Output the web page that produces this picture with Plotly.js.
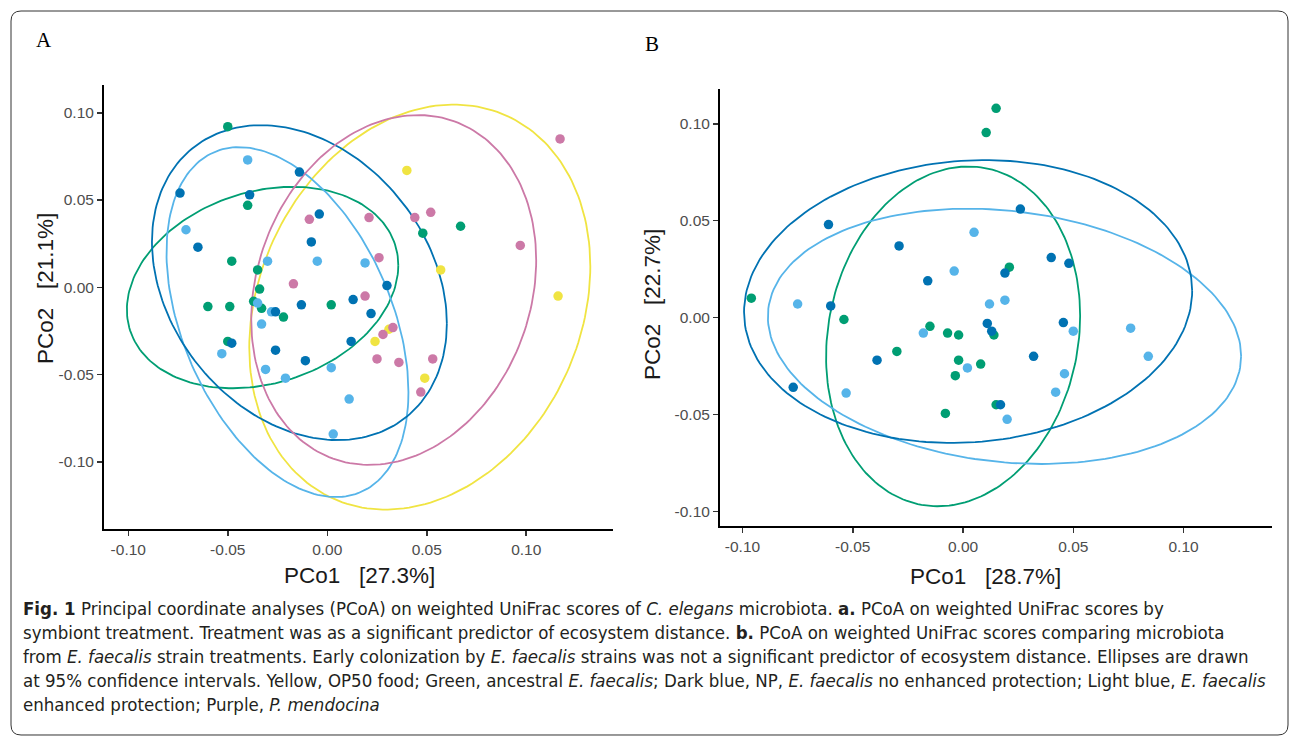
<!DOCTYPE html>
<html>
<head>
<meta charset="utf-8">
<script src="https://cdn.plot.ly/plotly-3.0.1.min.js"></script>
<style>
  html, body { margin: 0; padding: 0; background: #ffffff; }
  #chart { width: 1290px; height: 738px; }
</style>
</head>
<body>
<div id="chart"></div>
<script>
// ---------------- Panel A data (PCoA, symbiont treatment) ----------------
const aYellowX = [0.040, 0.057, 0.116, 0.031, 0.024, 0.049];
const aYellowY = [0.067, 0.010, -0.005, -0.024, -0.031, -0.052];
const aGreenX = [-0.050, -0.040, -0.048, -0.035, -0.034, 0.048, 0.067, 0.002, -0.060, -0.049, -0.037, -0.033, -0.022, -0.050];
const aGreenY = [0.092, 0.047, 0.015, 0.010, -0.001, 0.031, 0.035, -0.010, -0.011, -0.011, -0.008, -0.012, -0.017, -0.031];
const aLightX = [-0.040, -0.071, -0.005, -0.030, 0.019, -0.035, -0.028, -0.033, -0.053, -0.031, -0.021, 0.002, 0.011, 0.003];
const aLightY = [0.073, 0.033, 0.015, 0.015, 0.014, -0.009, -0.014, -0.021, -0.038, -0.047, -0.052, -0.046, -0.064, -0.084];
const aDarkX = [-0.014, -0.074, -0.039, -0.004, -0.008, -0.065, 0.030, 0.013, 0.022, 0.012, -0.026, -0.013, -0.048, -0.026, -0.011];
const aDarkY = [0.066, 0.054, 0.053, 0.042, 0.026, 0.023, 0.001, -0.007, -0.015, -0.031, -0.014, -0.010, -0.032, -0.036, -0.042];
const aPinkX = [0.117, 0.052, 0.044, 0.021, 0.026, 0.097, 0.019, 0.033, 0.028, 0.025, 0.036, 0.053, 0.047, -0.009, -0.017];
const aPinkY = [0.085, 0.043, 0.040, 0.040, 0.017, 0.024, -0.005, -0.023, -0.027, -0.041, -0.043, -0.041, -0.060, 0.039, 0.002];

// Panel A 95% ellipses: centre, half-width, half-height, correlation
const aEllGroups = ['yellow', 'green', 'light', 'dark', 'pink'];
const aEllCX = [0.0465, -0.0325, -0.0200, -0.0140, 0.0334];
const aEllCY = [-0.0113, -0.0001, -0.0199, 0.0027, -0.0015];
const aEllW  = [0.0857, 0.0682, 0.0608, 0.0741, 0.0716];
const aEllH  = [0.1160, 0.0577, 0.1002, 0.0902, 0.1002];
const aEllR  = [0.20, 0.22, -0.40, -0.26, 0.17];

// ---------------- Panel B data (E. faecalis strain treatments) ----------------
const bGreenX = [0.015, 0.0105, -0.096, 0.021, -0.054, -0.015, -0.007, -0.002, 0.014, -0.030, -0.002, 0.008, -0.0035, -0.008, 0.015];
const bGreenY = [0.108, 0.0955, 0.010, 0.026, -0.001, -0.0045, -0.008, -0.009, -0.009, -0.0175, -0.022, -0.024, -0.030, -0.0495, -0.045];
const bLightX = [0.005, -0.004, -0.075, 0.012, 0.019, -0.018, 0.002, -0.053, 0.050, 0.076, 0.084, 0.046, 0.042, 0.020];
const bLightY = [0.044, 0.024, 0.007, 0.007, 0.009, -0.008, -0.026, -0.039, -0.007, -0.0055, -0.020, -0.029, -0.0385, -0.0525];
const bDarkX = [-0.061, -0.029, -0.016, -0.060, 0.026, 0.040, 0.048, 0.019, 0.011, 0.013, 0.0455, 0.032, -0.039, -0.077, 0.017];
const bDarkY = [0.048, 0.037, 0.019, 0.006, 0.056, 0.031, 0.028, 0.023, -0.003, -0.007, -0.0026, -0.020, -0.022, -0.036, -0.045];

const bEllGroups = ['green', 'light', 'dark'];
const bEllCX = [-0.0045, 0.0188, 0.0023];
const bEllCY = [-0.0097, -0.0097, 0.0083];
const bEllW  = [0.0576, 0.1073, 0.1016];
const bEllH  = [0.0877, 0.0659, 0.0730];
const bEllR  = [0.12, -0.155, 0.075];

// Tick labels
const tickVals = [-0.10, -0.05, 0.00, 0.05, 0.10];
const tickText = ['-0.10', '-0.05', '0.00', '0.05', '0.10'];

// Axis titles
const aXTitle = 'PCo1\u00a0\u00a0\u00a0[27.3%]';
const aYTitle = 'PCo2\u00a0\u00a0\u00a0[21.1%]';
const bXTitle = 'PCo1\u00a0\u00a0\u00a0[28.7%]';
const bYTitle = 'PCo2\u00a0\u00a0\u00a0[22.7%]';

// Caption lines
const captionLines = [
  '<b>Fig. 1</b> Principal coordinate analyses (PCoA) on weighted UniFrac scores of <i>C. elegans</i> microbiota. <b>a.</b> PCoA on weighted UniFrac scores by',
  'symbiont treatment. Treatment was as a significant predictor of ecosystem distance. <b>b.</b> PCoA on weighted UniFrac scores comparing microbiota',
  'from <i>E. faecalis</i> strain treatments. Early colonization by <i>E. faecalis</i> strains was not a significant predictor of ecosystem distance. Ellipses are drawn',
  'at 95% confidence intervals. Yellow, OP50 food; Green, ancestral <i>E. faecalis</i>; Dark blue, NP, <i>E. faecalis</i> no enhanced protection; Light blue, <i>E. faecalis</i>',
  'enhanced protection; Purple, <i>P. mendocina</i>'
];

// ---------------- styling ----------------
const COLORS = { yellow: '#F0E442', green: '#009E73', light: '#56B4E9', dark: '#0072B2', pink: '#CC79A7' };
const FW = 1290, FH = 738;
const px = v => v / FW;
const py = v => 1 - v / FH;

function ellipseTrace(cx, cy, w, h, r, color, xa, ya) {
  const xs = [], ys = [];
  const s = Math.sqrt(1 - r * r);
  for (let i = 0; i <= 200; i++) {
    const t = 2 * Math.PI * i / 200;
    xs.push(cx + w * Math.cos(t));
    ys.push(cy + h * (r * Math.cos(t) + s * Math.sin(t)));
  }
  return { x: xs, y: ys, xaxis: xa, yaxis: ya, mode: 'lines', type: 'scatter',
           line: { color: color, width: 1.8 }, hoverinfo: 'skip', showlegend: false };
}
function pointTrace(xs, ys, color, xa, ya) {
  return { x: xs, y: ys, xaxis: xa, yaxis: ya, mode: 'markers', type: 'scatter',
           marker: { color: color, size: 9.5, line: { width: 0 } }, showlegend: false };
}

const traces = [];
aEllGroups.forEach((g, i) => traces.push(ellipseTrace(aEllCX[i], aEllCY[i], aEllW[i], aEllH[i], aEllR[i], COLORS[g], 'x', 'y')));
bEllGroups.forEach((g, i) => traces.push(ellipseTrace(bEllCX[i], bEllCY[i], bEllW[i], bEllH[i], bEllR[i], COLORS[g], 'x2', 'y2')));

traces.push(pointTrace(aYellowX, aYellowY, COLORS.yellow, 'x', 'y'));
traces.push(pointTrace(aGreenX, aGreenY, COLORS.green, 'x', 'y'));
traces.push(pointTrace(aLightX, aLightY, COLORS.light, 'x', 'y'));
traces.push(pointTrace(aDarkX, aDarkY, COLORS.dark, 'x', 'y'));
traces.push(pointTrace(aPinkX, aPinkY, COLORS.pink, 'x', 'y'));

traces.push(pointTrace(bGreenX, bGreenY, COLORS.green, 'x2', 'y2'));
traces.push(pointTrace(bLightX, bLightY, COLORS.light, 'x2', 'y2'));
traces.push(pointTrace(bDarkX, bDarkY, COLORS.dark, 'x2', 'y2'));

const SANS = '"Liberation Sans", Arial, Helvetica, sans-serif';
const tickFont = { family: SANS, size: 15.5, color: '#4d4d4d' };
const titleFont = { family: SANS, size: 22.5, color: '#1a1a1a' };

function axisBase(extra) {
  return Object.assign({
    showgrid: false, zeroline: false, showline: true, linecolor: '#000', linewidth: 2,
    ticks: 'outside', ticklen: 5, tickwidth: 1.5, tickcolor: '#333',
    tickmode: 'array', tickvals: tickVals, ticktext: tickText, tickfont: tickFont,
    automargin: false, fixedrange: true
  }, extra);
}

// rounded border box around figure
function roundedRect(x0, y0, x1, y1, rad) {
  const X = v => px(v).toFixed(5), Y = v => py(v).toFixed(5);
  return `M ${X(x0 + rad)} ${Y(y0)} L ${X(x1 - rad)} ${Y(y0)} Q ${X(x1)} ${Y(y0)} ${X(x1)} ${Y(y0 + rad)} ` +
         `L ${X(x1)} ${Y(y1 - rad)} Q ${X(x1)} ${Y(y1)} ${X(x1 - rad)} ${Y(y1)} ` +
         `L ${X(x0 + rad)} ${Y(y1)} Q ${X(x0)} ${Y(y1)} ${X(x0)} ${Y(y1 - rad)} ` +
         `L ${X(x0)} ${Y(y0 + rad)} Q ${X(x0)} ${Y(y0)} ${X(x0 + rad)} ${Y(y0)} Z`;
}

const captionFont = { family: '"DejaVu Sans Condensed", "Liberation Sans Narrow", sans-serif', size: 18.5, color: '#231f20' };
const serifFont = { family: '"Liberation Serif", "Times New Roman", serif', size: 21, color: '#000' };
const ann = (text, x, y, font, extra) => Object.assign({ text: text, x: px(x), y: py(y), xref: 'paper', yref: 'paper',
  showarrow: false, xanchor: 'center', yanchor: 'middle', font: font }, extra || {});

const annotations = [
  ann('A', 44, 40, serifFont),
  ann('B', 652, 44, serifFont),
  ann(aXTitle, 359, 575, titleFont),
  ann(aYTitle, 45, 289, titleFont, { textangle: -90 }),
  ann(bXTitle, 985, 576, titleFont),
  ann(bYTitle, 652, 305, titleFont, { textangle: -90 })
];
captionLines.forEach((t, i) => annotations.push(ann(t, 21, 608 + 24 * i, captionFont, { xanchor: 'left', align: 'left' })));

const layout = {
  width: FW, height: FH,
  margin: { l: 0, r: 0, t: 0, b: 0 },
  paper_bgcolor: '#ffffff', plot_bgcolor: '#ffffff',
  showlegend: false,
  xaxis: axisBase({ domain: [px(104), px(613)], range: [-0.1122, 0.1436], anchor: 'y' }),
  yaxis: axisBase({ domain: [py(529), py(85)], range: [-0.1384, 0.1159], anchor: 'x' }),
  xaxis2: axisBase({ domain: [px(720), px(1272)], range: [-0.1102, 0.1401], anchor: 'y2' }),
  yaxis2: axisBase({ domain: [py(526), py(89)], range: [-0.1076, 0.118], anchor: 'x2' }),
  shapes: [
    { type: 'path', xref: 'paper', yref: 'paper', path: roundedRect(11, 11, 1288, 735, 10),
      line: { color: '#333333', width: 1 }, fillcolor: 'rgba(0,0,0,0)', layer: 'below' }
  ],
  annotations: annotations
};

Plotly.newPlot('chart', traces, layout, { displayModeBar: false, staticPlot: true });
</script>
</body>
</html>
